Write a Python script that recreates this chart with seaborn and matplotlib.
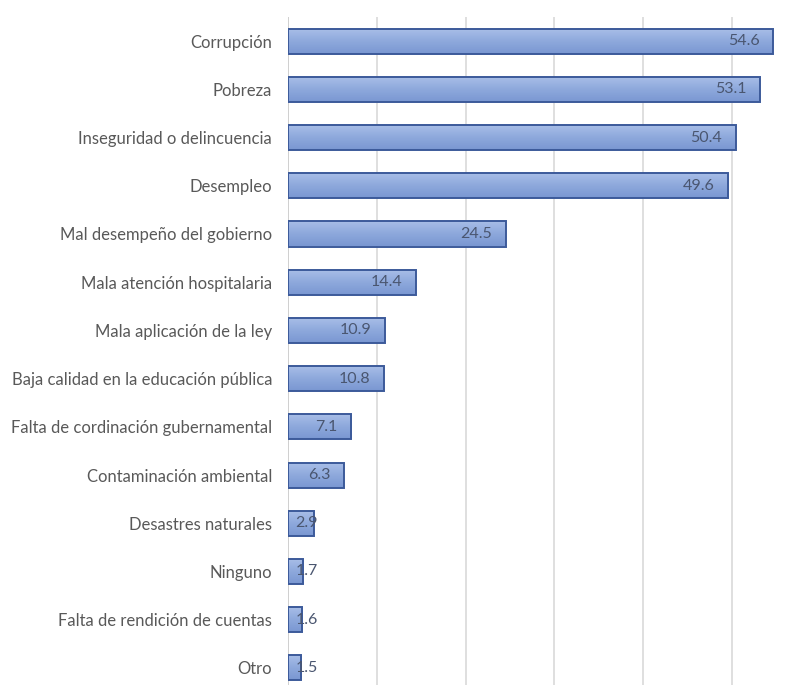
import matplotlib
matplotlib.use("Agg")
import matplotlib.pyplot as plt
import seaborn as sns
import numpy as np
import pandas as pd
from matplotlib.colors import LinearSegmentedColormap

categories = ["Corrupción", "Pobreza", "Inseguridad o delincuencia", "Desempleo",
              "Mal desempeño del gobierno", "Mala atención hospitalaria",
              "Mala aplicación de la ley", "Baja calidad en la educación pública",
              "Falta de cordinación gubernamental", "Contaminación ambiental",
              "Desastres naturales", "Ninguno", "Falta de rendición de cuentas", "Otro"]
values = [54.6, 53.1, 50.4, 49.6, 24.5, 14.4, 10.9, 10.8, 7.1, 6.3, 2.9, 1.7, 1.6, 1.5]
value_labels = ["54.6", "53.1", "50.4", "49.6", "24.5", "14.4", "10.9", "10.8",
                "7.1", "6.3", "2.9", "1.7", "1.6", "1.5"]

df = pd.DataFrame({"cat": categories, "val": values})

sns.set_theme(style="white")
plt.rcParams["font.family"] = ["Lato", "DejaVu Sans"]

fig = plt.figure(figsize=(8.12, 6.85), dpi=100)
ax = fig.add_axes([288 / 812, -7 / 685, (800 - 288) / 812, (685 - 17 + 7) / 685])

sns.barplot(data=df, x="val", y="cat", orient="h", color="#8eaadb",
            width=0.52, ax=ax, zorder=2)

cmap = LinearSegmentedColormap.from_list("g", ["#aabfe8", "#8ea9dc", "#7a97d2"])
grad = np.linspace(0, 1, 64).reshape(-1, 1)
for p in ax.patches:
    p.set_edgecolor("#3c5a9a")
    p.set_linewidth(1.4)
    x0, y0 = p.get_x(), p.get_y()
    w, h = p.get_width(), p.get_height()
    im = ax.imshow(grad, cmap=cmap, aspect="auto",
                   extent=(x0, x0 + w, y0 + h, y0), zorder=2.5,
                   interpolation="bicubic")
    im.set_clip_path(p)
    p.set_facecolor("none")
    p.set_zorder(3)

ax.set_xlim(0, (800 - 288) / 8.88)
ax.set_ylim(len(categories) - 0.5, -0.5)
ax.set_xticks([0, 10, 20, 30, 40, 50])
ax.xaxis.grid(True, color="#d9d9d9", linewidth=1.2, zorder=0)
ax.set_axisbelow(True)
ax.tick_params(axis="x", length=0, labelbottom=False)
ax.tick_params(axis="y", length=0, pad=11.5, labelsize=12, labelcolor="#595959")
ax.set_xlabel("")
ax.set_ylabel("")
for s in ax.spines.values():
    s.set_visible(False)
ax.axvline(0, color="#d0d0d0", linewidth=1.4, zorder=1)

for i, (v, lab) in enumerate(zip(values, value_labels)):
    xpos = max(v - 1.5, 3.4)
    ax.text(xpos, i, lab, ha="right", va="center", fontsize=11.5,
            color="#4a5670", zorder=5)

fig.savefig("out.png", dpi=100)
